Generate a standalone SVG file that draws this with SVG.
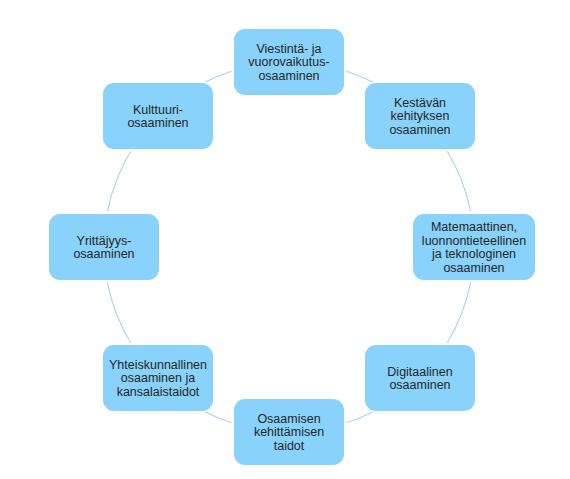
<svg xmlns="http://www.w3.org/2000/svg" width="570" height="479" viewBox="0 0 570 479">
<style>
.bg{fill:#ffffff}
.box{fill:#88D2FB;stroke:none}
.lbl{font-family:"Liberation Sans",Arial,sans-serif;font-size:12.5px;fill:#262626;text-anchor:middle}
.arc{fill:none;stroke:#A3D6EC;stroke-width:1.1}
</style>
<rect class="bg" x="0" y="0" width="570" height="479"/>
<g id="connectors">
<path class="arc" d="M346.48,71.16 A185,185 0 0 1 372.69,82.02"/>
<path class="arc" d="M447.25,151.17 A185,185 0 0 1 470.54,211.39"/>
<path class="arc" d="M470.54,282.61 A185,185 0 0 1 447.25,342.83"/>
<path class="arc" d="M372.69,411.98 A185,185 0 0 1 346.48,422.84"/>
<path class="arc" d="M231.52,422.84 A185,185 0 0 1 205.31,411.98"/>
<path class="arc" d="M130.75,342.83 A185,185 0 0 1 107.46,282.61"/>
<path class="arc" d="M107.46,211.39 A185,185 0 0 1 130.75,151.17"/>
<path class="arc" d="M205.31,82.02 A185,185 0 0 1 231.52,71.16"/>
</g>
<g id="node-viestinta">
<rect class="box" x="234" y="29" width="110" height="66" rx="11"/>
<text class="lbl" x="289" y="52.5">Viestintä- ja</text>
<text class="lbl" x="289" y="66">vuorovaikutus-</text>
<text class="lbl" x="289" y="79.5">osaaminen</text>
</g>
<g id="node-kestava">
<rect class="box" x="365" y="83" width="110" height="66" rx="11"/>
<text class="lbl" x="420" y="106.5">Kestävän</text>
<text class="lbl" x="420" y="120">kehityksen</text>
<text class="lbl" x="420" y="133.5">osaaminen</text>
</g>
<g id="node-matemaattinen">
<rect class="box" x="413" y="214" width="122" height="66" rx="11"/>
<text class="lbl" x="474" y="231.25">Matemaattinen,</text>
<text class="lbl" x="474" y="244.75">luonnontieteellinen</text>
<text class="lbl" x="474" y="258.25">ja teknologinen</text>
<text class="lbl" x="474" y="271.75">osaaminen</text>
</g>
<g id="node-digitaalinen">
<rect class="box" x="365" y="345" width="110" height="66" rx="11"/>
<text class="lbl" x="420" y="375.75">Digitaalinen</text>
<text class="lbl" x="420" y="389.25">osaaminen</text>
</g>
<g id="node-osaamisen">
<rect class="box" x="234" y="399" width="110" height="66" rx="11"/>
<text class="lbl" x="289" y="422.5">Osaamisen</text>
<text class="lbl" x="289" y="436">kehittämisen</text>
<text class="lbl" x="289" y="449.5">taidot</text>
</g>
<g id="node-yhteiskunnallinen">
<rect class="box" x="103" y="345" width="110" height="66" rx="11"/>
<text class="lbl" x="158" y="368.5">Yhteiskunnallinen</text>
<text class="lbl" x="158" y="382">osaaminen ja</text>
<text class="lbl" x="158" y="395.5">kansalaistaidot</text>
</g>
<g id="node-yrittajyys">
<rect class="box" x="49" y="214" width="110" height="66" rx="11"/>
<text class="lbl" x="104" y="244.75">Yrittäjyys-</text>
<text class="lbl" x="104" y="258.25">osaaminen</text>
</g>
<g id="node-kulttuuri">
<rect class="box" x="103" y="83" width="110" height="66" rx="11"/>
<text class="lbl" x="158" y="113.75">Kulttuuri-</text>
<text class="lbl" x="158" y="127.25">osaaminen</text>
</g>
</svg>
